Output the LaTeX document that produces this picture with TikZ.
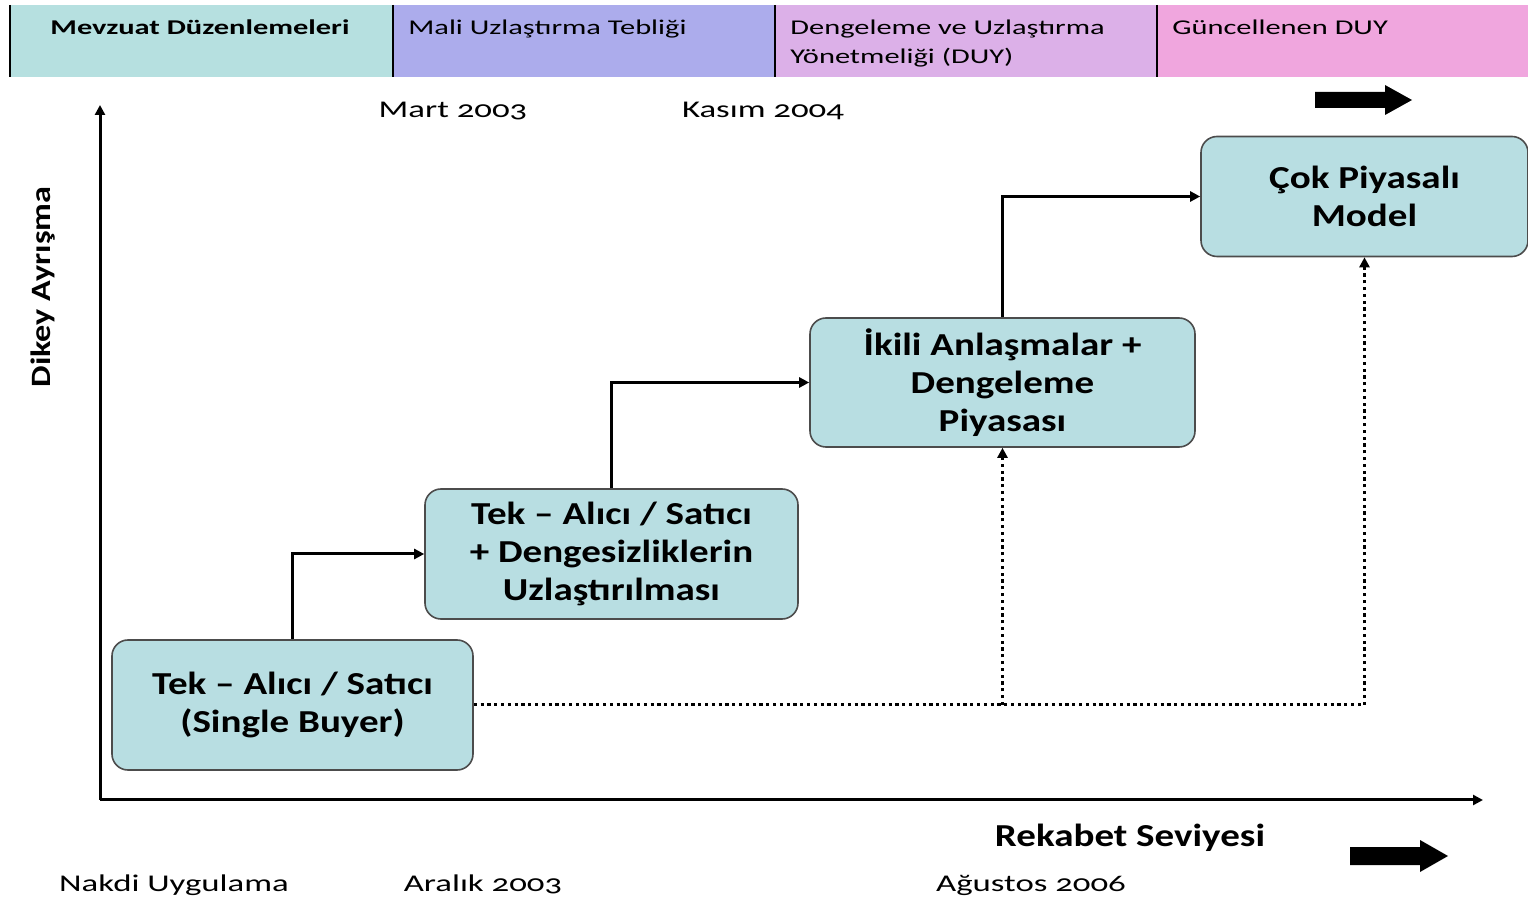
\documentclass[tikz,border=0pt]{standalone}
\usepackage{fontspec}
\setmainfont{Carlito}[Numbers=OldStyle, FakeStretch=1.22]
\newfontfamily\widefont{Carlito}[Numbers=OldStyle, FakeStretch=1.45]
\usepackage{xcolor}
\usetikzlibrary{arrows.meta}

\definecolor{barteal}{RGB}{182,224,224}
\definecolor{barblue}{RGB}{172,172,236}
\definecolor{barlilac}{RGB}{220,176,232}
\definecolor{barpink}{RGB}{240,166,222}
\definecolor{stagefill}{RGB}{184,222,226}

\tikzset{
  stage/.style={draw=black!70, fill=stagefill, rounded corners=8pt, line width=0.8pt,
    align=center, font=\fontsize{16}{19}\selectfont\bfseries},
  link/.style={line width=1.5pt, -{Triangle[length=5pt,width=5pt]}},
  dots/.style={line width=1.5pt, dash pattern=on 1.6pt off 1.8pt, -{Triangle[length=5pt,width=5pt]}},
  bartext/.style={anchor=base west, inner sep=0pt, align=left, font=\widefont\fontsize{10.5}{14.5}\selectfont},
  datetext/.style={anchor=base, inner sep=0pt, font=\widefont\fontsize{12}{14}\selectfont}
}

\begin{document}
\begin{tikzpicture}[x=0.5pt, y=-0.5pt]
            \useasboundingbox (0,0) rectangle (1528,903);

            % top bar
            \fill[barteal] (10,5) rectangle (393,77);
            \fill[barblue] (393,5) rectangle (775,77);
            \fill[barlilac] (775,5) rectangle (1157,77);
            \fill[barpink] (1157,5) rectangle (1528,77);
            \foreach \x in {10,393,775,1157}
                \draw[line width=0.8pt] (\x,5) -- (\x,77);
            \node[bartext, font=\widefont\fontsize{10.5}{14.5}\selectfont\bfseries] (reg) at (50,35) {Mevzuat Düzenlemeleri};
            \node[bartext] (mali) at (408,35) {Mali Uzlaştırma Tebliği};
            \node[bartext, anchor=north west] (duy) at (790,20) {Dengeleme ve Uzlaştırma\\Yönetmeliği (DUY)};
            \node[bartext] (newduy) at (1172,35) {Güncellenen DUY};

            % axes
            \coordinate (origin) at (100,800);
            \coordinate (ytop) at (100,105);
            \coordinate (xend) at (1483,800);
            \draw[link] (origin) -- (ytop);
            \draw[link] (origin) -- (xend);
            \node[rotate=90, font=\fontsize{14}{16}\selectfont\bfseries] (vert) at (43,287) {Dikey Ayrışma};
            \node[anchor=base, inner sep=0pt, font=\fontsize{16}{18}\selectfont\bfseries] (comp) at (1130,847) {Rekabet Seviyesi};

            % dates
            \node[datetext] (mart) at (453,118) {Mart 2003};
            \node[datetext] (kasim) at (763,118) {Kasım 2004};
            \node[datetext] (nakdi) at (174,892) {Nakdi Uygulama};
            \node[datetext] (aralik) at (483,892) {Aralık 2003};
            \node[datetext] (agustos) at (1031,892) {Ağustos 2006};

            % block arrows
            \fill (1315,92) -- (1385,92) -- (1385,85) -- (1412,100) -- (1385,115) -- (1385,108) -- (1315,108) -- cycle;
            \fill (1350,847) -- (1420,847) -- (1420,840) -- (1448,856) -- (1420,872) -- (1420,865) -- (1350,865) -- cycle;

            % stages
            \node[stage, minimum width=180.5pt, minimum height=65pt] (single) at (292.5,705) {Tek -- Alıcı / Satıcı\\(Single Buyer)};
            \node[stage, minimum width=186.5pt, minimum height=65pt] (imbal) at (611.5,554) {Tek -- Alıcı / Satıcı\\+ Dengesizliklerin\\Uzlaştırılması};
            \node[stage, minimum width=192.5pt, minimum height=64.5pt] (bilat) at (1002.5,382.5) {İkili Anlaşmalar +\\Dengeleme\\Piyasası};
            \node[stage, minimum width=163.5pt, minimum height=60pt] (multi) at (1364.5,196.5) {Çok Piyasalı\\Model};

            \draw[link] (single.north) |- (imbal.west); % single-imbal
            \draw[link] (imbal.north) |- (bilat.west); % imbal-bilat
            \draw[link] (bilat.north) |- (multi.west); % bilat-multi

            \coordinate (fork) at (single.east -| bilat.south);
            \draw[dots] (single.east) -| (multi.south); % single-multi
            \draw[dots] (fork) -- (bilat.south); % single-bilat
        \end{tikzpicture}
\end{document}
